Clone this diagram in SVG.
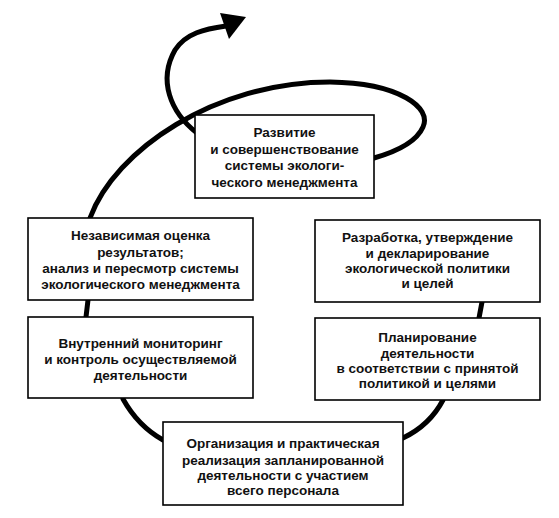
<svg xmlns="http://www.w3.org/2000/svg" width="559" height="518" viewBox="0 0 559 518">
<style>
.box{fill:#fff;stroke:#000;stroke-width:1.6}
.t{font-family:"Liberation Sans",Arial,sans-serif;font-weight:bold;font-size:13.5px;fill:#111;text-anchor:middle}
.c{fill:none;stroke:#000;stroke-width:5;stroke-linecap:round}
</style>
<rect width="559" height="518" fill="#fff"/>
<g id="connectors">
<path class="c" d="M 90 218 C 115 150, 215 82, 330 82 C 400 83, 432 108, 423 127 C 416 143, 395 152, 374 158"/>
<path class="c" d="M 197 133 C 170 112, 158 80, 175 50 C 186 33, 205 29, 226 26"/>
<polygon points="246,17 220,13 229,39" fill="#000"/>
<path class="c" d="M 88 300 L 86 317"/>
<path class="c" d="M 482 302 L 479 318"/>
<path class="c" d="M 123 399 Q 138 426 163 440"/>
<path class="c" d="M 443 400 Q 430 425 403 438"/>
</g>
<g id="top">
<rect class="box" x="195" y="115" width="179" height="83"/>
<text class="t" x="284.5"><tspan x="284.5" y="137">Развитие</tspan><tspan x="284.5" y="154">и совершенствование</tspan><tspan x="284.5" y="170">системы экологи-</tspan><tspan x="284.5" y="187">ческого менеджмента</tspan></text>
</g>
<g id="review">
<rect class="box" x="28" y="218" width="225" height="82"/>
<text class="t"><tspan x="140.5" y="240">Независимая оценка</tspan><tspan x="140.5" y="257">результатов;</tspan><tspan x="140.5" y="273">анализ и пересмотр системы</tspan><tspan x="140.5" y="289">экологического менеджмента</tspan></text>
</g>
<g id="monitoring">
<rect class="box" x="28" y="317" width="225" height="81"/>
<text class="t"><tspan x="140.5" y="348">Внутренний мониторинг</tspan><tspan x="140.5" y="364">и контроль осуществляемой</tspan><tspan x="140.5" y="380">деятельности</tspan></text>
</g>
<g id="policy">
<rect class="box" x="315" y="220" width="225" height="82"/>
<text class="t"><tspan x="427.5" y="242">Разработка, утверждение</tspan><tspan x="427.5" y="258">и декларирование</tspan><tspan x="427.5" y="273">экологической политики</tspan><tspan x="427.5" y="288">и целей</tspan></text>
</g>
<g id="planning">
<rect class="box" x="315" y="318" width="225" height="82"/>
<text class="t"><tspan x="427.5" y="342">Планирование</tspan><tspan x="427.5" y="358">деятельности</tspan><tspan x="427.5" y="373">в соответствии с принятой</tspan><tspan x="427.5" y="388">политикой и целями</tspan></text>
</g>
<g id="implementation">
<rect class="box" x="163" y="422" width="240" height="83"/>
<text class="t"><tspan x="283" y="448">Организация и практическая</tspan><tspan x="283" y="465">реализация запланированной</tspan><tspan x="283" y="480">деятельности с участием</tspan><tspan x="283" y="495">всего персонала</tspan></text>
</g>
</svg>
